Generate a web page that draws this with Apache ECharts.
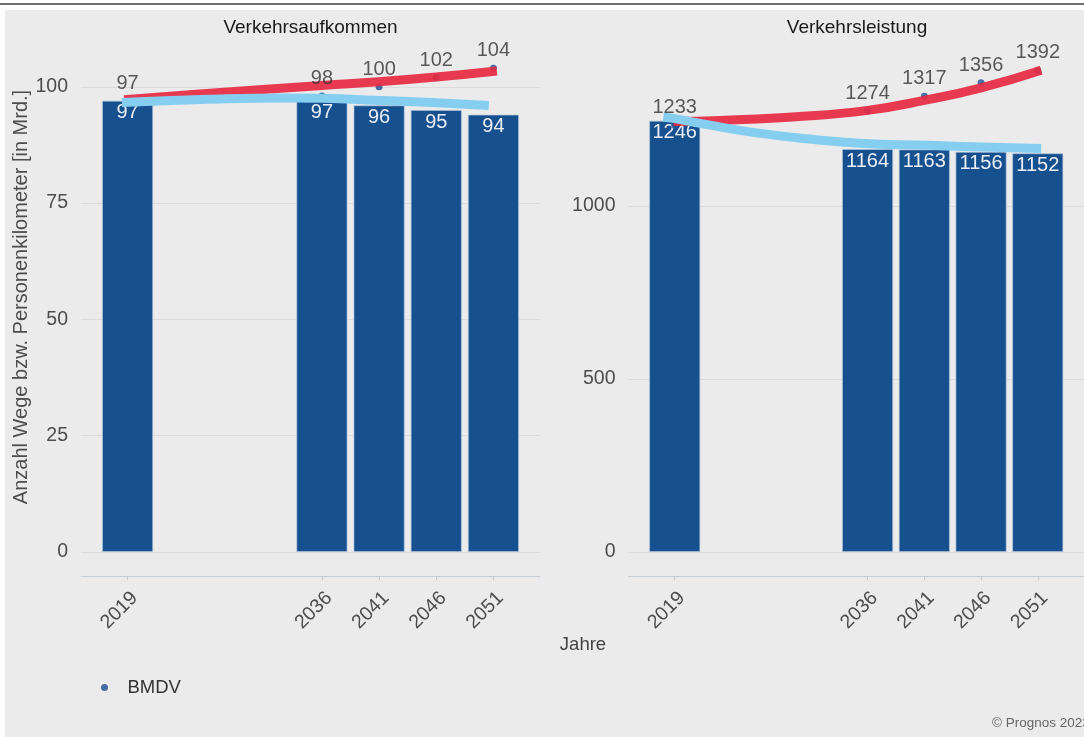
<!DOCTYPE html>
<html><head><meta charset="utf-8">
<script src="https://cdn.jsdelivr.net/npm/echarts@6/dist/echarts.min.js"></script>
<style>html,body{margin:0;padding:0;background:#fff}#c{width:1084px;height:737px}</style>
</head><body><div id="c"></div><script>
// ---- data ----
const years = [2019, 2036, 2041, 2046, 2051];
const panelTitles = ['Verkehrsaufkommen', 'Verkehrsleistung'];
const aufkommenBars = [97, 97, 96, 95, 94];
const aufkommenBMDV = [97, 98, 100, 102, 104];
const leistungBars = [1246, 1164, 1163, 1156, 1152];
const leistungBMDV = [1233, 1274, 1317, 1356, 1392];
// red trend curves
const aufkommenRedX = [2018.7, 2025, 2036, 2041, 2046, 2051.3];
const aufkommenRedY = [97.2, 98.4, 100.3, 101.1, 102.1, 103.4];
const leistungRedX = [2018.9, 2023, 2030, 2036, 2041, 2046, 2051.3];
const leistungRedY = [1244, 1247, 1258, 1276, 1305, 1341, 1392];
// light-blue trend curves
const aufkommenBlueX = [2018.5, 2026, 2033, 2042, 2050.6];
const aufkommenBlueY = [96.6, 97.3, 97.6, 97.0, 96.0];
const leistungBlueX = [2018.0, 2019, 2022, 2025.6, 2030.6, 2035.3, 2041.4, 2046, 2051.3];
const leistungBlueY = [1257, 1252, 1234, 1214, 1194, 1181, 1175, 1170, 1166];
const yTicksAufkommen = [0, 25, 50, 75, 100];
const yTicksLeistung = [0, 500, 1000];
const legendLabel = 'BMDV';
const xTitle = 'Jahre';
const yTitle = 'Anzahl Wege bzw. Personenkilometer [in Mrd.]';
const credit = '\u00a9 Prognos 2023';

// ---- styles ----
const FONT = 'Liberation Sans';
const BAR = '#16508f', DOT = '#1b4f95', RED = '#e62a43', BLUE = '#86cef0';
const pairs = (xs, ys) => xs.map((x, i) => [x, ys[i]]);

const panels = [
  {bars: aufkommenBars, bmdv: aufkommenBMDV, red: pairs(aufkommenRedX, aufkommenRedY),
   blue: pairs(aufkommenBlueX, aufkommenBlueY), ticks: yTicksAufkommen, interval: 25, max: 109.2,
   grid: {left: 81, top: 44, width: 459, height: 508}},
  {bars: leistungBars, bmdv: leistungBMDV, red: pairs(leistungRedX, leistungRedY),
   blue: pairs(leistungBlueX, leistungBlueY), ticks: yTicksLeistung, interval: 500, max: 1462,
   grid: {left: 628.5, top: 46, width: 457, height: 506}}
];

const grid = [], xAxis = [], yAxis = [], series = [];
panels.forEach((p, i) => {
  grid.push(Object.assign({containLabel: false}, p.grid));
  xAxis.push({
    type: 'value', gridIndex: i, min: 2014.925, max: 2055.075, offset: 24,
    axisLine: {show: true, onZero: false, lineStyle: {color: '#c4cdd7', width: 1}},
    axisTick: {show: true, length: 4, customValues: years, lineStyle: {color: '#c4cdd7'}},
    axisLabel: {customValues: years, rotate: 45, align: 'right', verticalAlign: 'top', margin: 12,
      fontFamily: FONT, fontSize: 19.5, color: '#4d4d4d', formatter: v => String(v)},
    splitLine: {show: false}
  });
  yAxis.push({
    type: 'value', gridIndex: i, min: 0, max: p.max, interval: p.interval,
    axisLine: {show: false}, axisTick: {show: false}, splitLine: {show: false},
    axisLabel: {margin: 13, fontFamily: FONT, fontSize: 19.5, color: '#4d4d4d',
      showMaxLabel: false, formatter: v => p.ticks.includes(v) ? String(v) : ''}
  });
  series.push({
    type: 'bar', xAxisIndex: i, yAxisIndex: i, barWidth: 51, z: 2,
    data: years.map((y, k) => [y, p.bars[k]]),
    itemStyle: {color: BAR, borderColor: 'rgba(175,195,220,0.8)', borderWidth: 0.8},
    label: {show: true, position: 'insideTop', distance: 2, color: '#e9eef5',
      fontFamily: FONT, fontSize: 20},
    markLine: {silent: true, symbol: 'none', z: 1, label: {show: false},
      lineStyle: {color: '#dcdcdc', type: 'solid', width: 1},
      data: p.ticks.map(t => ({yAxis: t}))}
  });
  series.push({
    type: 'scatter', name: legendLabel, xAxisIndex: i, yAxisIndex: i, z: 3,
    symbolSize: 7, itemStyle: {color: DOT},
    data: years.map((y, k) => [y, p.bmdv[k]])
  });
  series.push({
    type: 'line', name: 'red', xAxisIndex: i, yAxisIndex: i, z: 4, smooth: 0.5,
    showSymbol: false, data: p.red,
    lineStyle: {color: RED, width: 9, opacity: 0.92, cap: 'butt'}
  });
  series.push({
    type: 'line', name: 'blue', xAxisIndex: i, yAxisIndex: i, z: 5, smooth: 0.5,
    showSymbol: false, data: p.blue,
    lineStyle: {color: BLUE, width: 9, cap: 'butt'}
  });
  series.push({
    type: 'scatter', name: 'BMDV-label', xAxisIndex: i, yAxisIndex: i, z: 10,
    symbolSize: 1, itemStyle: {color: 'rgba(0,0,0,0)'}, silent: true,
    label: {show: true, position: 'top', distance: 7, color: '#333', fontFamily: FONT, fontSize: 20},
    data: years.map((y, k) => [y, p.bmdv[k]])
  });
});

const txt = (text, x, y, size, color, extra) => Object.assign({
  type: 'text', x, y, silent: true,
  style: {text, fontFamily: FONT, fontSize: size, fill: color, align: 'center', verticalAlign: 'middle'}
}, extra || {});

const chart = echarts.init(document.getElementById('c'), null, {renderer: 'canvas'});
chart.setOption({
  animation: false,
  backgroundColor: '#ebebeb',
  grid, xAxis, yAxis, series,
  legend: {data: [{name: legendLabel, icon: 'circle'}], left: 96, top: 673,
    itemWidth: 36, itemHeight: 7, textStyle: {fontFamily: FONT, fontSize: 18.5, color: '#333'}},
  graphic: [
    {type: 'rect', shape: {x: 0, y: 0, width: 1084, height: 10}, style: {fill: '#fff'}, silent: true},
    {type: 'rect', shape: {x: 0, y: 0, width: 5, height: 737}, style: {fill: '#fff'}, silent: true},
    {type: 'rect', shape: {x: 0, y: 3, width: 1084, height: 2}, style: {fill: '#6e6e6e'}, silent: true},
    txt(panelTitles[0], 310.5, 28, 19, '#1a1a1a'),
    txt(panelTitles[1], 857, 28, 19, '#1a1a1a'),
    txt(xTitle, 583, 645, 18.5, '#444'),
    txt(yTitle, 21, 297, 20, '#4d4d4d', {rotation: Math.PI / 2}),
    {type: 'text', x: 992, y: 723, silent: true,
     style: {text: credit, fontFamily: FONT, fontSize: 13.5, fill: '#666', align: 'left', verticalAlign: 'middle'}}
  ]
});
</script></body></html>
